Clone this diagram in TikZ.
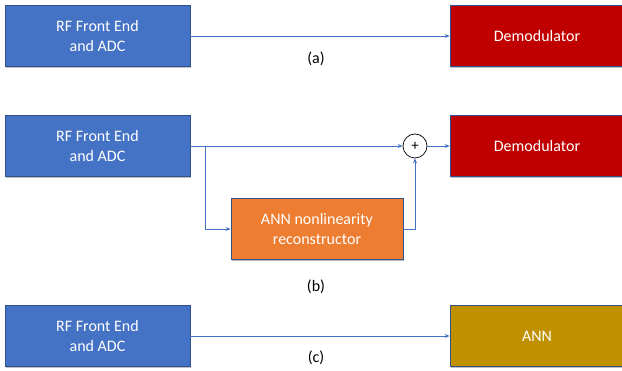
\documentclass[tikz,border=0pt]{standalone}
\usepackage{fontspec}
\setmainfont{Carlito}
\usetikzlibrary{arrows.meta,shadows}
\definecolor{cblue}{HTML}{4472C4}
\definecolor{cblueD}{HTML}{2F528F}
\definecolor{cred}{HTML}{C00000}
\definecolor{corange}{HTML}{ED7D31}
\definecolor{cgold}{HTML}{BF9000}
\begin{document}
\begin{tikzpicture}[x=1pt,y=-1pt,
  box/.style={draw=cblueD, line width=0.6pt, text=white, align=center,
    font=\fontsize{16}{20}\selectfont, inner sep=0pt,
    drop shadow={shadow xshift=1.2pt, shadow yshift=-1.2pt, opacity=0.25, fill=black}},
  frontbox/.style={box, fill=cblue, minimum width=185pt, minimum height=61pt},
  outbox/.style={box, minimum width=174pt, minimum height=61pt},
  conn/.style={draw=cblue, line width=0.9pt, -{Stealth[length=5pt,width=4pt]}},
  lbl/.style={font=\fontsize{16}{19}\selectfont, text=black},
  sumnode/.style={circle, draw=black, fill=white, line width=0.7pt, minimum size=24pt, inner sep=0pt, font=\fontsize{15}{15}\selectfont}]
\useasboundingbox (0,0) rectangle (622,371);
% (a)
\node[frontbox] (rf1) at (97.5,36) {RF Front End\\and ADC};
\node[outbox, fill=cred] (dem1) at (537,36) {Demodulator};
\draw[conn] (rf1) -- (dem1);
\node[lbl] (la) at (316,58.5) {(a)};
% (b)
\node[frontbox] (rf2) at (97.5,146) {RF Front End\\and ADC};
\node[outbox, fill=cred] (dem2) at (537,146) {Demodulator};
\node[sumnode] (sum) at (415,146) {+};
\node[box, fill=corange, minimum width=172pt, minimum height=61pt] (ann) at (317,229) {ANN nonlinearity\\reconstructor};
\coordinate (br) at (205,146);
\draw[conn] (rf2.east) -- (sum.west);
\draw[conn] (sum.east) -- (dem2.west);
\draw[conn] (br) |- (ann.west);
\draw[conn] (ann.east) -| (sum.south);
\node[lbl] (lb) at (316,286.5) {(b)};
% (c)
\node[frontbox] (rf3) at (97.5,336) {RF Front End\\and ADC};
\node[outbox, fill=cgold] (ann3) at (537,336) {ANN};
\draw[conn] (rf3) -- (ann3);
\node[lbl] (lc) at (316,358) {(c)};
\end{tikzpicture}
\end{document}
